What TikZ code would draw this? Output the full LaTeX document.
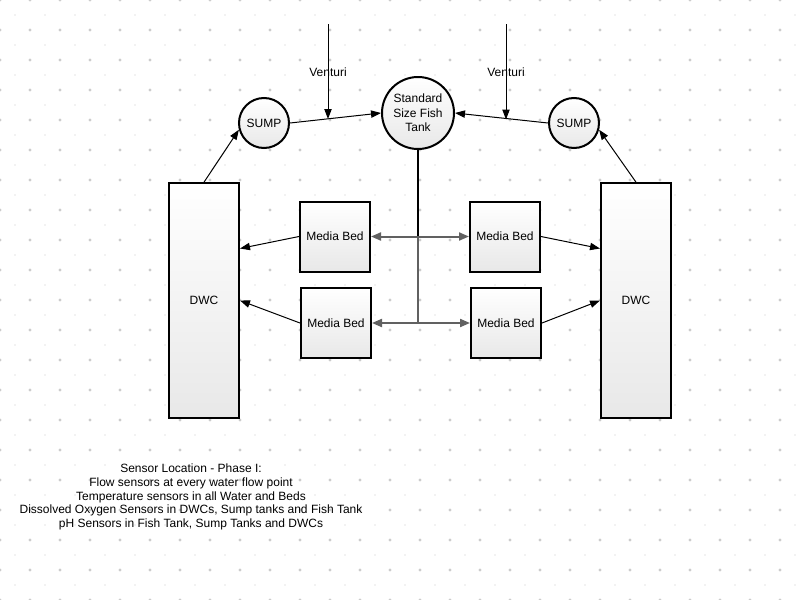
\documentclass[tikz,border=0pt]{standalone}
\usepackage{fontspec}
\setmainfont{Liberation Sans}
\usepackage{tikz}
\usetikzlibrary{arrows.meta,calc,positioning,shapes}

\begin{document}
\begin{tikzpicture}[x=0.75pt,y=-0.75pt,
  font=\fontsize{9pt}{10.2pt}\selectfont,
  unit/.style = {draw, line width=1.5pt, align=center, inner sep=1pt,
    top color=white, bottom color=black!9},
  tank/.style = {unit, circle, minimum size=54pt, font=\fontsize{9pt}{11pt}\selectfont},
  sump/.style = {unit, circle, minimum size=37.5pt},
  bed/.style = {unit, rectangle, minimum width=52.5pt, minimum height=52.5pt},
  dwc/.style = {unit, rectangle, minimum width=52.5pt, minimum height=176pt},
  flow/.style = {line width=0.75pt, -{Triangle[length=7.5pt,width=5.5pt]}},
  feed/.style = {line width=1.5pt, black!62,
    {Triangle[length=7.5pt,width=6pt]}-{Triangle[length=7.5pt,width=6pt]}},
  bigdot/.style = {fill=black!20, draw=none},
  smalldot/.style = {fill=black!22, draw=none}]
  \useasboundingbox (0,0) rectangle (800,600);
  \fill[white] (0,0) rectangle (800,600);
  \foreach \i in {0,...,26}
    \foreach \j in {0,...,20} {
      \fill[bigdot] (30*\i,30*\j) circle (1.2pt);
      \fill[smalldot] (30*\i+15,30*\j+15) circle (0.45pt);
    }

  \node[tank] (tank) at (418,113) {Standard\\Size Fish\\Tank};
  \node[sump] (sumpL) at (264,123) {SUMP};
  \node[sump] (sumpR) at (574,123) {SUMP};
  \node[dwc] (dwcL) at (204,300.5) {DWC};
  \node[dwc] (dwcR) at (636,300.5) {DWC};
  \node[bed] (bedTL) at (335,236.5) {Media Bed};
  \node[bed] (bedBL) at (336,323) {Media Bed};
  \node[bed] (bedTR) at (505,236.5) {Media Bed};
  \node[bed] (bedBR) at (506,323) {Media Bed};

  \coordinate (ventTopL) at (328,24);
  \coordinate (ventTopR) at (506,24);
  \coordinate (ventL) at (328,119);
  \coordinate (ventR) at (506,119.5);
  \coordinate (jTop) at (tank.south |- bedTL.east);
  \coordinate (jBot) at (tank.south |- bedBL.east);

  \draw[flow] (sumpL.east) -- (tank.west);
  \draw[flow] (sumpR.west) -- (tank.east);
  \draw[flow] (ventTopL) -- (ventL);
  \draw[flow] (ventTopR) -- (ventR);
  \node (ventiL) at (328,72) {Venturi};
  \node (ventiR) at (506,72) {Venturi};

  \draw[line width=1.5pt] (tank.south) -- (jTop);
  \draw[line width=1.5pt, black!62] (jTop) -- (jBot);
  \draw[feed] (bedTL.east) -- (bedTR.west);
  \draw[feed] (bedBL.east) -- (bedBR.west);

  \draw[flow] (bedTL.west) -- ($(dwcL.east)+(0,-52)$);
  \draw[flow] (bedBL.west) -- (dwcL.east);
  \draw[flow] (bedTR.east) -- ($(dwcR.west)+(0,-52)$);
  \draw[flow] (bedBR.east) -- (dwcR.west);
  \draw[flow] (dwcL.north) -- (sumpL.195);
  \draw[flow] (dwcR.north) -- (sumpR.-15);

  \node[align=center] (sensors) at (191,497) {Sensor Location - Phase I:\\
    Flow sensors at every water flow point\\
    Temperature sensors in all Water and Beds\\
    Dissolved Oxygen Sensors in DWCs, Sump tanks and Fish Tank\\
    pH Sensors in Fish Tank, Sump Tanks and DWCs};
\end{tikzpicture}
\end{document}
